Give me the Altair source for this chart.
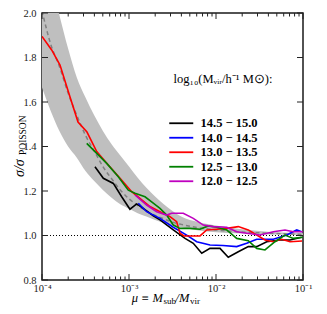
import altair as alt
import pandas as pd
import numpy as np

# ---------------- data ----------------
# Poisson expectation: shaded band and its centre (dashed), vs log10(mu)
band_lmu = [-4.0, -3.9, -3.8, -3.7, -3.6, -3.5, -3.4, -3.3, -3.2, -3.1, -3.0, -2.9,
            -2.8, -2.7, -2.6, -2.5, -2.4, -2.2, -2.0, -1.75, -1.5, -1.25, -1.0]
band_mid = [2.01, 1.86, 1.76, 1.64, 1.54, 1.45, 1.38, 1.31, 1.255, 1.205, 1.165, 1.135,
            1.11, 1.09, 1.075, 1.06, 1.05, 1.035, 1.025, 1.017, 1.012, 1.008, 1.005]
band_hi = [2.40, 2.15, 1.99, 1.84, 1.71, 1.62, 1.54, 1.47, 1.41, 1.36, 1.31, 1.26,
           1.215, 1.175, 1.14, 1.11, 1.085, 1.06, 1.045, 1.03, 1.02, 1.013, 1.01]
band_lo = [1.665, 1.56, 1.47, 1.40, 1.35, 1.29, 1.245, 1.205, 1.17, 1.14, 1.12, 1.10,
           1.085, 1.07, 1.057, 1.045, 1.037, 1.022, 1.015, 1.01, 1.006, 1.004, 1.002]

labels = ["14.5 \u2212 15.0", "14.0 \u2212 14.5", "13.0 \u2212 13.5", "12.5 \u2212 13.0", "12.0 \u2212 12.5"]
colors = ["#000000", "#0000ff", "#ff0000", "#008000", "#bf00bf"]

lmu_k = [-3.391, -3.295, -3.180, -3.084, -2.989, -2.912, -2.836, -2.721, -2.644, -2.491, -2.356,
         -2.261, -2.164, -2.069, -1.954, -1.859, -1.744, -1.629, -1.532, -1.417, -1.264, -1.149, -1.015]
sig_k = [1.309, 1.257, 1.234, 1.174, 1.118, 1.142, 1.122, 1.088, 1.070, 1.025, 0.987,
         0.965, 0.920, 0.942, 0.942, 0.902, 0.927, 0.950, 0.950, 0.972, 0.980, 0.980, 0.992]

lmu_b = [-2.893, -2.797, -2.644, -2.491, -2.337, -2.222, -2.069, -1.920, -1.762, -1.647, -1.532,
         -1.341, -1.187, -1.072, -1.015]
sig_b = [1.145, 1.107, 1.077, 1.037, 1.002, 0.972, 0.957, 0.955, 0.950, 0.965, 0.983,
         0.983, 1.002, 1.025, 1.017]

lmu_r = [-4.0, -3.889, -3.793, -3.678, -3.586, -3.483, -3.371, -3.238, -3.103, -2.969, -2.759,
         -2.644, -2.529, -2.452, -2.414, -2.368, -2.299, -2.184, -2.107, -1.992, -1.877, -1.744,
         -1.629, -1.532, -1.437, -1.341, -1.245, -1.149, -1.011]
sig_r = [1.895, 1.834, 1.766, 1.622, 1.510, 1.465, 1.377, 1.317, 1.257, 1.197, 1.130,
         1.107, 1.085, 1.062, 1.010, 0.998, 0.998, 0.998, 1.025, 1.028, 1.032, 1.040,
         1.025, 1.002, 0.980, 0.972, 0.983, 0.972, 0.975]

lmu_g = [-3.486, -3.391, -3.256, -3.123, -3.008, -2.931, -2.816, -2.721, -2.644, -2.567, -2.491,
         -2.414, -2.299, -2.184, -2.089, -1.992, -1.877, -1.762, -1.629, -1.532, -1.437, -1.322,
         -1.207, -1.111, -1.003]
sig_g = [1.414, 1.377, 1.324, 1.264, 1.204, 1.190, 1.174, 1.145, 1.122, 1.092, 1.047,
         1.032, 1.032, 1.028, 1.043, 1.037, 1.025, 0.987, 0.977, 0.942, 0.935, 0.972,
         1.002, 0.987, 0.992]

lmu_m = [-2.931, -2.797, -2.682, -2.567, -2.510, -2.376, -2.261, -2.146, -2.031, -1.877, -1.762,
         -1.647, -1.494, -1.341, -1.207, -1.111, -1.003]
sig_m = [1.182, 1.137, 1.107, 1.092, 1.100, 1.100, 1.077, 1.047, 1.040, 1.037, 1.017,
         1.010, 1.002, 1.017, 1.025, 1.017, 1.017]

x_tick_values = [1e-4, 1e-3, 1e-2, 1e-1]
x_tick_labels = ["10\u207b\u2074", "10\u207b\u00b3", "10\u207b\u00b2", "10\u207b\u00b9"]
y_tick_values = [0.8, 1.0, 1.2, 1.4, 1.6, 1.8, 2.0]
x_minor = [k * 10.0 ** e for e in (-4, -3, -2) for k in range(2, 10)]

# ---------------- layout ----------------
W, H = 261, 267
FONT = "Liberation Serif"
INK = "#222222"

x_scale = alt.Scale(type="log", domain=[1e-4, 1e-1], nice=False)
y_scale = alt.Scale(domain=[0.8, 2.0], nice=False, zero=False)

label_expr = " : ".join(
    f"datum.value < {v * 3:.6g} ? '{t}'" for v, t in zip(x_tick_values[:-1], x_tick_labels[:-1])
) + f" : '{x_tick_labels[-1]}'"

x_axis = alt.Axis(values=x_tick_values, labelExpr=label_expr, tickSize=0, domain=False,
                  grid=False, title=None, labelFont=FONT, labelFontSize=10.5, labelColor=INK,
                  labelPadding=3, labelFlush=False)
y_axis = alt.Axis(values=y_tick_values, format=".1f", tickSize=0, domain=False, grid=False,
                  title=None, labelFont=FONT, labelFontSize=10.5, labelColor=INK, labelPadding=6,
                  labelFlush=False)

band_df = pd.DataFrame({"mu": 10 ** np.array(band_lmu), "mid": band_mid,
                        "lo": band_lo, "hi": band_hi})

band = alt.Chart(band_df).mark_area(color="#bfbfbf", clip=True, interpolate="monotone").encode(
    x=alt.X("mu:Q", scale=x_scale, axis=x_axis),
    y=alt.Y("lo:Q", scale=y_scale, axis=y_axis),
    y2="hi:Q",
)
mid = alt.Chart(band_df).mark_line(color="#808080", strokeDash=[4, 3], strokeWidth=1.5,
                                   clip=True, interpolate="monotone").encode(
    x=alt.X("mu:Q", scale=x_scale),
    y=alt.Y("mid:Q", scale=y_scale),
)
unity = alt.Chart(pd.DataFrame({"y": [1.0]})).mark_rule(
    color="black", strokeDash=[1, 2], strokeWidth=1).encode(y=alt.Y("y:Q", scale=y_scale))

rows = []
for lab, lm, sg in zip(labels, [lmu_k, lmu_b, lmu_r, lmu_g, lmu_m],
                       [sig_k, sig_b, sig_r, sig_g, sig_m]):
    for i, (a, b) in enumerate(zip(lm, sg)):
        rows.append({"grp": lab, "mu": 10 ** a, "s": b, "i": i})
curves_df = pd.DataFrame(rows)

curves = alt.Chart(curves_df).mark_line(strokeWidth=1.6, clip=True).encode(
    x=alt.X("mu:Q", scale=x_scale),
    y=alt.Y("s:Q", scale=y_scale),
    order="i:Q",
    color=alt.Color("grp:N", scale=alt.Scale(domain=labels, range=colors),
                    legend=alt.Legend(orient="none", legendX=133, legendY=104, title=None,
                                      symbolType="M-6,0H6", symbolSize=16,
                                      symbolStrokeWidth=1.8, labelFont=FONT,
                                      labelFontSize=12.5, labelFontWeight="bold",
                                      labelColor="black", rowPadding=1.5, labelOffset=13,
                                      padding=0)),
)

# inward ticks on all four sides
xmaj = pd.DataFrame({"v": x_tick_values})
xmin = pd.DataFrame({"v": x_minor})
ymaj = pd.DataFrame({"v": y_tick_values})
tick_layers = []
for df, ln in ((xmaj, 6), (xmin, 3.5)):
    tick_layers.append(alt.Chart(df).mark_rule(color=INK, strokeWidth=1).encode(
        x=alt.X("v:Q", scale=x_scale), y=alt.value(H), y2=alt.value(H - ln)))
    tick_layers.append(alt.Chart(df).mark_rule(color=INK, strokeWidth=1).encode(
        x=alt.X("v:Q", scale=x_scale), y=alt.value(0), y2=alt.value(ln)))
tick_layers.append(alt.Chart(ymaj).mark_rule(color=INK, strokeWidth=1).encode(
    y=alt.Y("v:Q", scale=y_scale), x=alt.value(0), x2=alt.value(6)))
tick_layers.append(alt.Chart(ymaj).mark_rule(color=INK, strokeWidth=1).encode(
    y=alt.Y("v:Q", scale=y_scale), x=alt.value(W), x2=alt.value(W - 6)))


def txt(s, x, y, size=12, style="normal", align="left", angle=0, weight="normal",
        baseline="alphabetic", font=FONT):
    return alt.Chart(pd.DataFrame({"t": [s]})).mark_text(
        font=font, fontSize=size, fontStyle=style, align=align, angle=angle,
        fontWeight=weight, baseline=baseline, color="black").encode(
        text="t:N", x=alt.value(x), y=alt.value(y))


texts = [
    # x-axis title: mu = M_sub / M_vir
    txt("\u03bc \u2261 M", 121, 289, 12.5, "italic", "right"),
    txt("sub", 121.5, 291, 9),
    txt("/M", 133.5, 289, 12.5, "italic"),
    txt("vir", 148, 291, 9),
    # y-axis title: sigma / sigma_POISSON
    txt("\u03c3/\u03c3", -18, 164, 14, "italic", "left", 270),
    txt("POISSON", -16, 142, 9.5, "normal", "left", 270),
    # legend title
    txt("log\u2081\u2080(M\u1d65\u1d62\u1d63/h\u207b\u00b9 M\u2299):", 181, 66, 12.5, "normal",
        "center", 0, "normal", "middle"),
]

chart = alt.layer(band, mid, unity, curves, *tick_layers, *texts).properties(
    width=W, height=H,
    autosize=alt.AutoSizeParams(type="none"),
    padding={"left": 34, "top": 5, "right": 16, "bottom": 26},
    background="white",
).configure_view(stroke="#1a1a1a", strokeWidth=1.5)

chart.save("out.html", embed_options={"renderer": "svg", "actions": False})
